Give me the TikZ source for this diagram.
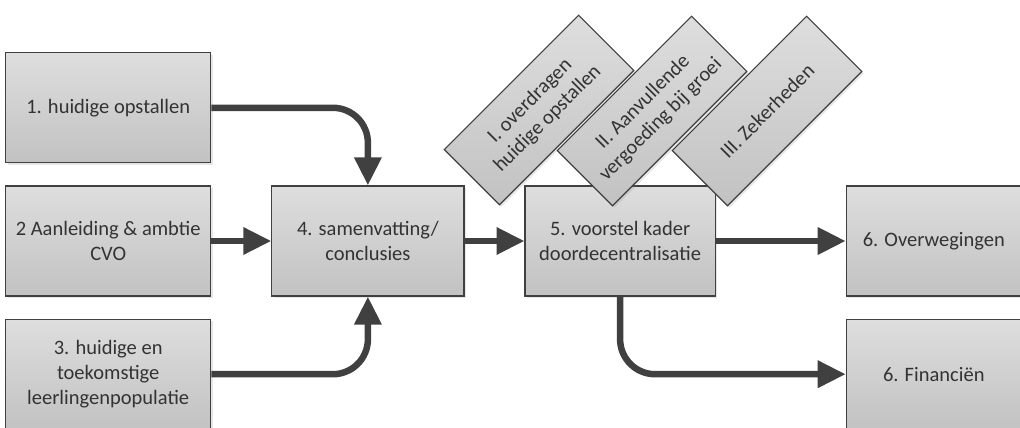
\documentclass[tikz,border=0pt]{standalone}
\usepackage{fontspec}
\setmainfont{Carlito}
\usepackage{tikz}
\usetikzlibrary{arrows.meta,shadows,positioning}
\usepackage{xcolor}
\definecolor{boxline}{HTML}{404040}
\definecolor{boxtext}{HTML}{333333}

\begin{document}
\begin{tikzpicture}[x=1pt,y=-1pt,
	  every node/.style={align=center,text=boxtext,font=\fontsize{20.5}{25}\selectfont},
	  every matrix/.style={ampersand replacement=\&,column sep=60pt,row sep=22pt,inner sep=0pt},
	  block/.style={draw=boxline,line width=1.2pt,top color=black!13,bottom color=black!24,minimum height=110pt,inner sep=3pt,drop shadow={shadow xshift=2pt,shadow yshift=-2pt,opacity=0.2}},
	  input/.style={block,minimum width=205pt},
	  summary/.style={block,minimum width=192pt},
	  proposal/.style={block,minimum width=190pt},
	  outcome/.style={block,minimum width=175pt},
	  condition/.style={block,minimum width=190pt,minimum height=78pt,rotate=45},
	  flow/.style={-{Triangle[length=28pt,width=26pt]},draw=boxline,line width=6.5pt,rounded corners=35pt}]

	  \useasboundingbox (0,0) rectangle (1020,428);

	  % Position the main boxes using a matrix layout
	  \matrix (grid) at (513.5,241) {
	    \node[input] (opstallen) {1. huidige opstallen}; \& \& \&[70pt] \\
	    \node[input] (aanleiding) {2 Aanleiding {\char38} ambtie\\CVO}; \& \node[summary] (samenvatting) {4. samenvatting/\\conclusies}; \& \node[proposal] (voorstel) {5. voorstel kader\\doordecentralisatie}; \&[70pt] \node[outcome] (overwegingen) {6. Overwegingen}; \\
	    \node[input] (populatie) {3. huidige en\\toekomstige\\leerlingenpopulatie}; \& \& \&[70pt] \node[outcome] (financien) {6. Financiën}; \\
	  };

	  % Conditions on top of the proposal
	  \node[condition] (overdragen) at (539,110) {I. overdragen\\huidige opstallen};
	  \node[condition] (groei) at (652,111) {II. Aanvullende\\vergoeding bij groei};
	  \node[condition] (zekerheden) at (767,111) {III. Zekerheden};

	  \draw[flow] (opstallen.east) -| (samenvatting.north);
	  \draw[flow] (aanleiding) -- (samenvatting);
	  \draw[flow] (populatie.east) -| (samenvatting.south);
	  \draw[flow] (samenvatting) -- (voorstel);
	  \draw[flow] (voorstel) -- (overwegingen);
	  \draw[flow] (voorstel.south) |- (financien.west);
\end{tikzpicture}
\end{document}
